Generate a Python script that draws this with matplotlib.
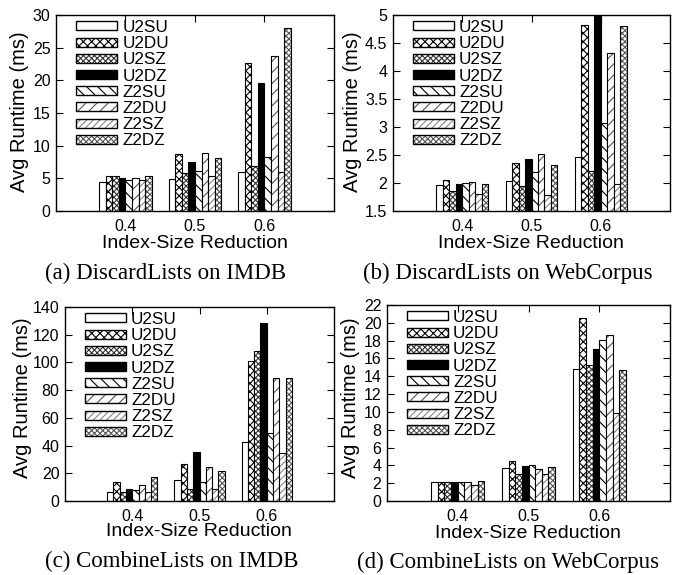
import matplotlib
matplotlib.use("Agg")
import matplotlib.pyplot as plt
import numpy as np
from matplotlib.patches import Patch
from matplotlib.legend_handler import HandlerTuple
from matplotlib.ticker import FormatStrFormatter, MultipleLocator

plt.rcParams['font.family'] = ['Liberation Sans', 'DejaVu Sans']
plt.rcParams['hatch.linewidth'] = 0.8

categories = ['0.4', '0.5', '0.6']
series = ['U2SU', 'U2DU', 'U2SZ', 'U2DZ', 'Z2SU', 'Z2DU', 'Z2SZ', 'Z2DZ']

# (a) DiscardLists on IMDB
a_vals = {
    'U2SU': [4.5, 4.95, 6.0],
    'U2DU': [5.3, 8.7, 22.7],
    'U2SZ': [5.35, 5.8, 6.9],
    'U2DZ': [5.1, 7.45, 19.6],
    'Z2SU': [4.7, 6.1, 8.2],
    'Z2DU': [5.05, 8.85, 23.7],
    'Z2SZ': [4.8, 5.35, 5.9],
    'Z2DZ': [5.3, 8.05, 28.0],
}
# (b) DiscardLists on WebCorpus
b_vals = {
    'U2SU': [1.96, 2.04, 2.47],
    'U2DU': [2.06, 2.35, 4.83],
    'U2SZ': [1.86, 1.95, 2.21],
    'U2DZ': [1.99, 2.43, 4.98],
    'Z2SU': [2.00, 2.20, 3.08],
    'Z2DU': [2.02, 2.51, 4.33],
    'Z2SZ': [1.80, 1.79, 1.99],
    'Z2DZ': [1.99, 2.33, 4.81],
}
# (c) CombineLists on IMDB
c_vals = {
    'U2SU': [6.2, 14.8, 42.9],
    'U2DU': [13.6, 26.9, 101.2],
    'U2SZ': [6.2, 8.3, 108.3],
    'U2DZ': [9.0, 35.2, 128.8],
    'Z2SU': [7.9, 13.6, 49.0],
    'Z2DU': [11.9, 24.3, 89.0],
    'Z2SZ': [6.7, 8.6, 34.3],
    'Z2DZ': [17.6, 21.9, 89.0],
}
# (d) CombineLists on WebCorpus
d_vals = {
    'U2SU': [2.1, 3.76, 14.85],
    'U2DU': [2.14, 4.47, 20.5],
    'U2SZ': [2.1, 3.0, 15.3],
    'U2DZ': [2.1, 3.98, 17.1],
    'Z2SU': [2.1, 4.02, 18.05],
    'Z2DU': [2.1, 3.57, 18.65],
    'Z2SZ': [1.84, 3.0, 9.9],
    'Z2DZ': [2.22, 3.83, 14.75],
}

captions = ['(a) DiscardLists on IMDB', '(b) DiscardLists on WebCorpus',
            '(c) CombineLists on IMDB', '(d) CombineLists on WebCorpus']

# style: (facecolor, hatch, hatch color)
styles = {
    'U2SU': ('white', '', 'black'),
    'U2DU': ('white', 'xxxx', 'black'),
    'U2SZ': ('white', 'xxxxxx', '#333333'),
    'U2DZ': ('black', '', 'black'),
    'Z2SU': ('white', '\\\\\\', 'black'),
    'Z2DU': ('white', '///', '#555555'),
    'Z2SZ': ('white', '/////', '#888888'),
    'Z2DZ': ('white', 'xxxxxx', '#555555'),
}

W, H = 674, 575
fig = plt.figure(figsize=(W / 100, H / 100), dpi=100)

def frac_rect(l, r, t, b):
    return [l / W, (H - b) / H, (r - l) / W, (b - t) / H]

panels = [
    (a_vals, frac_rect(56, 334, 15, 211), (0, 30), 5, (20, 112), (195, 244), (166, 273)),
    (b_vals, frac_rect(393, 670, 15, 211), (1.5, 5), 0.5, (352, 112), (531, 244), (508, 273)),
    (c_vals, frac_rect(65, 334, 307, 501), (0, 140), 20, (22, 398), (199, 532), (172, 561)),
    (d_vals, frac_rect(387, 670, 305, 501), (0, 22), 2, (350, 398), (528, 534), (508, 562)),
]

x = np.arange(len(categories))
n = len(series)
bw = 0.75 / n

for i, (vals, rect, ylim, ystep, ylab, xlab, cap) in enumerate(panels):
    ax = fig.add_axes(rect)
    handles = []
    for j, s in enumerate(series):
        fc, h, hc = styles[s]
        off = (j - (n - 1) / 2) * bw
        ax.bar(x + off, vals[s], bw, color=fc, edgecolor=hc, hatch=h, linewidth=0)
        ax.bar(x + off, vals[s], bw, fill=False, edgecolor='black', linewidth=0.8)
        handles.append((Patch(facecolor=fc, edgecolor=hc, hatch=h, linewidth=0),
                        Patch(fill=False, edgecolor='black', linewidth=1.0)))
    ax.set_xlim(-1, 3)
    ax.set_ylim(*ylim)
    ax.set_xticks(x)
    ax.set_xticklabels(categories)
    ax.yaxis.set_major_locator(MultipleLocator(ystep))
    ax.yaxis.set_major_formatter(FormatStrFormatter('%g'))
    ax.tick_params(direction='in', top=True, right=True, length=5, width=0.8,
                   labelsize=11.5)
    ax.tick_params(axis='x', pad=6)
    ax.tick_params(axis='y', pad=4)
    for sp in ax.spines.values():
        sp.set_linewidth(1.0)
    ax.legend(handles, series, handler_map={tuple: HandlerTuple(ndivide=1, pad=0)},
              loc='upper left', bbox_to_anchor=(20 / (rect[2] * W), 1 - 5 / (rect[3] * H)),
              borderaxespad=0, borderpad=0, frameon=False, fontsize=12.3,
              handlelength=2.4, handleheight=0.42, handletextpad=0.3, labelspacing=0.07)
    fig.text(ylab[0] / W, 1 - ylab[1] / H, 'Avg Runtime (ms)', rotation=90,
             ha='center', va='center', fontsize=14.5)
    fig.text(xlab[0] / W, 1 - xlab[1] / H, 'Index-Size Reduction',
             ha='center', va='center', fontsize=14)
    fig.text(cap[0] / W, 1 - cap[1] / H, captions[i], ha='center', va='center',
             fontsize=16.5, family=['Liberation Serif', 'DejaVu Serif'])

fig.savefig('out.png', dpi=100)
